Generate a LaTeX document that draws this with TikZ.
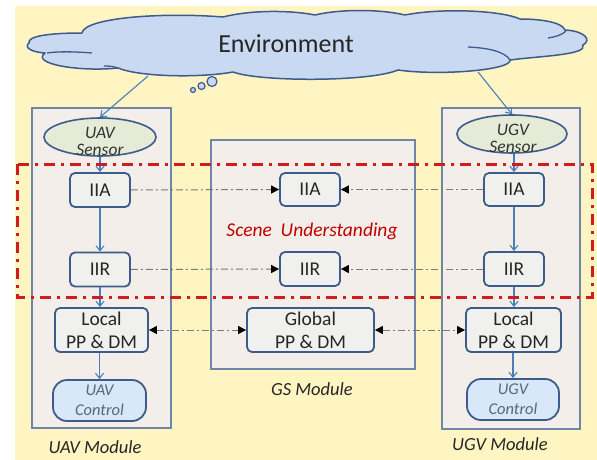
\documentclass[tikz,border=0pt]{standalone}
\usepackage{fontspec}
\setmainfont{Carlito}
\usetikzlibrary{arrows.meta,shapes.geometric}
\definecolor{bgyellow}{HTML}{FFF5C2}
\definecolor{cloudfill}{HTML}{C9D9F2}
\definecolor{cloudline}{HTML}{3E5B8C}
\definecolor{modfill}{HTML}{F3EEE9}
\definecolor{modline}{HTML}{6F86A6}
\definecolor{boxline}{HTML}{3C5D8A}
\definecolor{boxfill}{HTML}{F0F0EE}
\definecolor{sensfill}{HTML}{E6EBD7}
\definecolor{ctrlfill}{HTML}{D8E8F8}
\definecolor{ctrltext}{HTML}{5A6778}
\definecolor{bluearrow}{HTML}{4A7EBB}
\definecolor{dashred}{HTML}{D01C1C}
\definecolor{scenered}{HTML}{C00000}
\definecolor{linkgray}{HTML}{7A7A7A}
\begin{document}
\begin{tikzpicture}[x=1pt,y=-1pt,
  modbox/.style={draw=modline,line width=1.3pt,fill=modfill,rectangle,inner sep=0pt},
  procbox/.style={draw=boxline,line width=1.8pt,fill=boxfill,rectangle,rounded corners=5pt,inner sep=0pt,align=center,font=\fontsize{19.5}{23}\selectfont,text=black!85},
  sensbox/.style={draw=boxline,line width=1.6pt,fill=sensfill,ellipse,inner sep=0pt},
  senstext/.style={align=center,font=\fontsize{17.5}{17}\selectfont\itshape,text=black!80,inner sep=0pt},
  ctrlbox/.style={draw=boxline,line width=1.8pt,fill=ctrlfill,rectangle,rounded corners=14pt,inner sep=0pt,align=center,font=\fontsize{16.5}{20}\selectfont\itshape,text=ctrltext},
  modlabel/.style={font=\fontsize{18.5}{22}\selectfont\itshape,text=black!85,inner sep=0pt},
  flow/.style={draw=bluearrow,line width=1.1pt,-{Straight Barb[length=5pt,width=8pt]}},
  link/.style={draw=linkgray,line width=1pt,dash pattern=on 7pt off 3pt on 2pt off 3pt,-{Triangle[length=8pt,width=8pt,color=black]}},
  blink/.style={draw=linkgray,line width=1pt,dash pattern=on 7pt off 3pt on 2pt off 3pt,{Triangle[length=8pt,width=8pt,color=black]}-{Triangle[length=8pt,width=8pt,color=black]}}
]
\useasboundingbox (0,0) rectangle (597,460);
\fill[white] (0,0) rectangle (597,460);
\fill[bgyellow] (15,6) rectangle (597,460);

% cloud
\draw[draw=cloudline,fill=cloudfill,line width=1.5pt,line join=round]
  (29,43) .. controls (27,36) and (50,33) .. (82,33)
  .. controls (84,18) and (160,12) .. (223,17)
  .. controls (250,10) and (290,10) .. (315,15)
  .. controls (340,9) and (380,9) .. (405,15)
  .. controls (440,8) and (500,10) .. (520,19)
  .. controls (540,19) and (562,22) .. (565,30)
  .. controls (585,31) and (592,40) .. (583,45)
  .. controls (588,55) and (540,56) .. (510,60)
  .. controls (512,70) and (440,76) .. (398,70)
  .. controls (370,82) and (260,82) .. (233,72)
  .. controls (200,78) and (140,77) .. (118,68)
  .. controls (80,72) and (30,64) .. (45,53)
  .. controls (30,52) and (24,47) .. (29,43) -- cycle;
\draw[draw=cloudline,line width=1.3pt] (47,53) .. controls (60,51) and (80,52) .. (92,53);
\draw[draw=cloudline,line width=1.3pt] (468,47) .. controls (490,48) and (505,52) .. (510,60);
\draw[draw=cloudline,line width=1.3pt] (548,38) .. controls (555,37) and (562,35) .. (566,31);
\draw[draw=cloudline,line width=1.3pt] (118,68) .. controls (112,66) and (108,66) .. (104,66);
\draw[draw=cloudline,fill=cloudfill,line width=1.2pt] (193,90) circle (2.5);
\draw[draw=cloudline,fill=cloudfill,line width=1.2pt] (201.5,86) circle (3.5);
\draw[draw=cloudline,fill=cloudfill,line width=1.2pt] (212,81.5) circle (5);
\node[font=\fontsize{26}{30}\selectfont,text=black!85,inner sep=0pt] (env) at (286,44) {Environment};
\coordinate (cloudL) at (148,76);
\coordinate (cloudR) at (478,72);

% module boxes
\node[modbox,minimum width=139pt,minimum height=320pt] (uavm) at (101.5,268) {};
\node[modbox,minimum width=204pt,minimum height=229pt] (gsm) at (313,254.5) {};
\node[modbox,minimum width=138pt,minimum height=321pt] (ugvm) at (511,268.5) {};

% UAV column
\node[sensbox,minimum width=112pt,minimum height=38pt] (uavs) at (100,137) {};
\node[senstext] (uavst) at (100,141) {UAV\\Sensor};
\node[procbox,minimum width=60pt,minimum height=34pt] (uaviia) at (100,190) {IIA};
\node[procbox,minimum width=60pt,minimum height=34pt] (uaviir) at (100,269.5) {IIR};
\node[procbox,minimum width=93pt,minimum height=44pt] (uavloc) at (101.5,330) {Local\\PP \& DM};
\node[ctrlbox,minimum width=93pt,minimum height=41pt] (uavc) at (99.5,400.5) {UAV\\Control};

% GS column
\node[procbox,minimum width=60pt,minimum height=33pt] (gsiia) at (310,189.5) {IIA};
\node[procbox,minimum width=60pt,minimum height=34pt] (gsiir) at (310,269) {IIR};
\node[procbox,minimum width=127pt,minimum height=44pt] (gsglob) at (310.5,330) {Global\\PP \& DM};

% UGV column
\node[sensbox,minimum width=110pt,minimum height=38pt] (ugvs) at (512,134) {};
\node[senstext] (ugvst) at (513,138) {UGV\\Sensor};
\node[procbox,minimum width=60pt,minimum height=33pt] (ugviia) at (514,189.5) {IIA};
\node[procbox,minimum width=60pt,minimum height=34pt] (ugviir) at (514,269) {IIR};
\node[procbox,minimum width=95pt,minimum height=44pt] (ugvloc) at (513.5,330) {Local\\PP \& DM};
\node[ctrlbox,minimum width=92pt,minimum height=41pt] (ugvc) at (513,399.5) {UGV\\Control};

% labels
\node[modlabel] (uavlab) at (95,447) {UAV Module};
\node[modlabel] (gslab) at (312,389) {GS Module};
\node[modlabel] (ugvlab) at (500,444) {UGV Module};
\node[font=\fontsize{19.5}{22}\selectfont\itshape,text=scenered,inner sep=0pt] (scene) at (312,231) {Scene\ \ Understanding};

% blue flows
\draw[flow] (cloudL) -- (uavs.north);
\draw[flow] (cloudR) -- (ugvs.north);
\draw[flow] (uavs.south) -- (uaviia.north);
\draw[flow] (uaviia.south) -- (uaviir.north);
\draw[flow] (uaviir.south) -- (uaviir.south |- uavloc.north);
\draw[flow] (uavloc.south -| uavc.north) -- (uavc.north);
\draw[flow] (ugvs.south -| ugviia.north) -- (ugviia.north);
\draw[flow] (ugviia.south) -- (ugviir.north);
\draw[flow] (ugviir.south) -- (ugviir.south |- ugvloc.north);
\draw[flow] (ugvloc.south -| ugvc.north) -- (ugvc.north);

% links
\draw[link] (uaviia.east) -- (gsiia.west);
\draw[link] (ugviia.west) -- (gsiia.east);
\draw[link] (uaviir.east) -- (gsiir.west);
\draw[link] (ugviir.west) -- (gsiir.east);
\draw[blink] (uavloc.east) -- (gsglob.west);
\draw[blink] (gsglob.east) -- (ugvloc.west);

% scene understanding region
\draw[dashred,line width=3pt,dash pattern=on 11pt off 6pt on 3pt off 6pt] (17,164) rectangle (592,297);
\end{tikzpicture}
\end{document}
